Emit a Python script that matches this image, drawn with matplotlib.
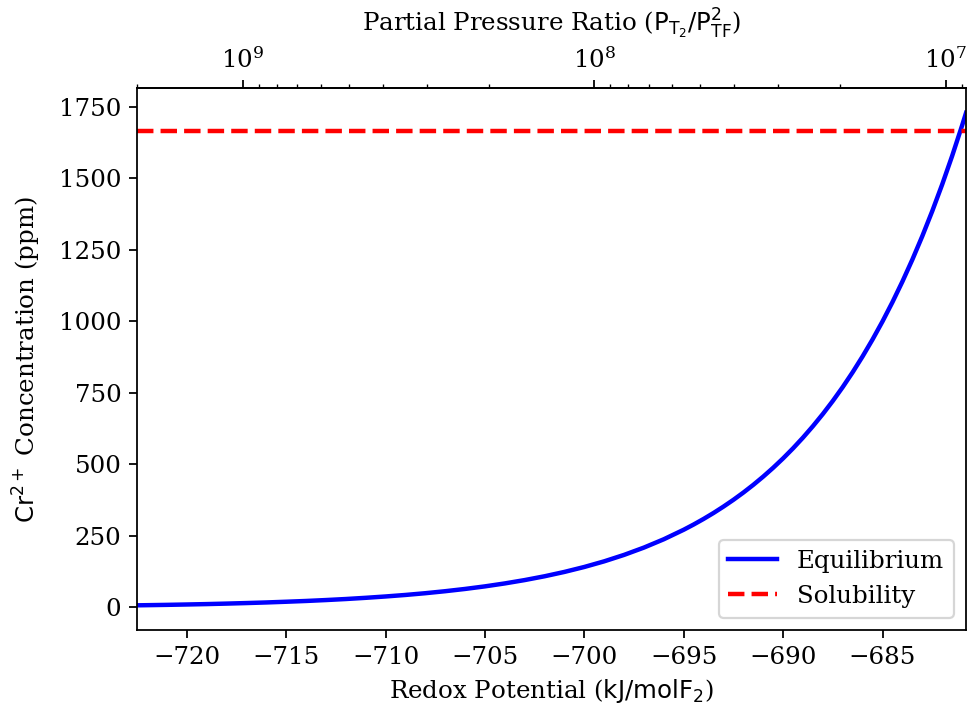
import numpy as np
import matplotlib
matplotlib.use('Agg')
import matplotlib.pyplot as plt
from matplotlib.ticker import LogLocator, LogFormatterSciNotation, NullFormatter

plt.rcParams['font.family'] = 'DejaVu Serif'
plt.rcParams['mathtext.fontset'] = 'dejavusans'
plt.rcParams['font.size'] = 11

# potentiel redox (kJ/molF2) et concentration Cr2+ (ppm)
redox = [-722.5, -722, -721, -720, -719, -718, -717, -716, -715, -714, -713,
         -712, -711, -710, -709, -708, -707, -706, -705, -704, -703, -702,
         -701, -700, -699, -698, -697, -696, -695, -694.5, -694, -693.5, -693,
         -692.5, -692, -691.5, -691, -690.5, -690, -689.5, -689, -688.5, -688,
         -687.5, -687, -686.5, -686, -685.5, -685, -684.5, -684, -683.5, -683,
         -682.5, -682, -681.5, -681, -680.8]
cr_ppm = [7.6, 8.1, 9.2, 10.5, 11.9, 13.6, 15.5, 17.6, 20.1, 22.8, 26.0,
          29.6, 33.8, 38.5, 43.8, 49.9, 56.9, 64.8, 73.8, 84.1, 95.8, 109.1,
          124.3, 141.6, 161.3, 183.8, 209.4, 238.5, 271.7, 290.0, 309.5, 330.3, 352.6,
          376.3, 401.6, 428.6, 457.5, 488.3, 521.2, 556.3, 593.8, 633.8, 676.4,
          721.9, 770.5, 822.4, 877.8, 936.9, 999.9, 1067.2, 1139.1, 1215.8, 1297.7,
          1385.1, 1478.3, 1577.8, 1684.0, 1728.5]
solubilite = 1665

# conversion potentiel -> rapport de pressions partielles (T = 923 K)
T = 923.0
R = 8.314e-3
k = R * T * np.log(10)
x0 = -699.5 + 8 * k


def vers_rapport(x):
    return 10 ** ((x0 - np.asarray(x, dtype=float)) / k)


def vers_redox(r):
    r = np.maximum(np.asarray(r, dtype=float), 1e-300)
    return x0 - k * np.log10(r)


fig, ax = plt.subplots(figsize=(968 / 160, 711 / 160), dpi=160)
fig.subplots_adjust(left=0.1415, right=0.998, top=0.876, bottom=0.114)

ax.plot(redox, cr_ppm, color='blue', lw=2, label='Equilibrium')
ax.axhline(solubilite, color='red', ls='--', lw=2, label='Solubility')
ax.set_xlim(redox[0], redox[-1])
ax.set_xlabel(r'Redox Potential ($\mathrm{kJ/molF_2}$)')
ax.set_ylabel(r'$\mathrm{Cr}^{2+}$ Concentration (ppm)', labelpad=7)
ax.legend(loc='lower right')

haut = ax.secondary_xaxis('top', functions=(vers_rapport, vers_redox))
haut.xaxis.set_major_locator(LogLocator(base=10))
haut.xaxis.set_minor_locator(LogLocator(base=10, subs=np.arange(2, 10)))
haut.xaxis.set_major_formatter(LogFormatterSciNotation(base=10))
haut.xaxis.set_minor_formatter(NullFormatter())
haut.set_xlabel(r'Partial Pressure Ratio ($\mathrm{P_{T_2}/P_{TF}^2}$)', labelpad=7)

plt.savefig('out.png', dpi=160)
